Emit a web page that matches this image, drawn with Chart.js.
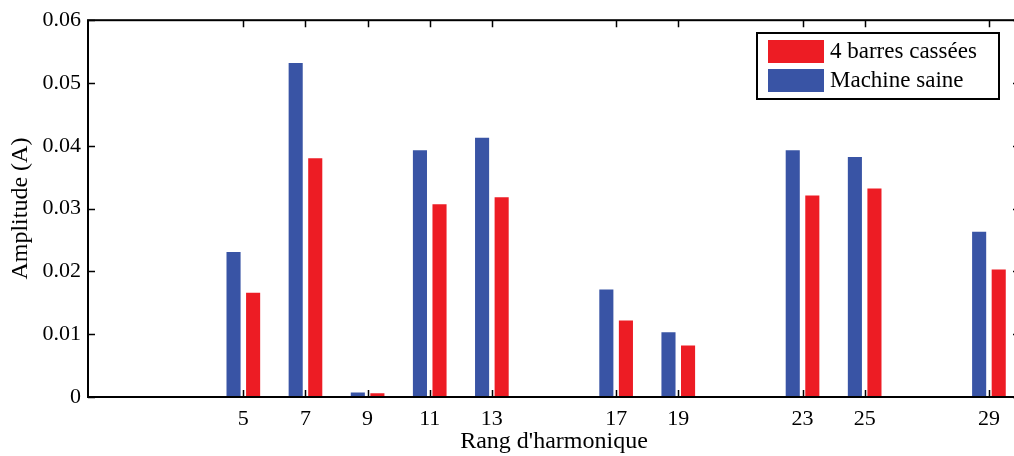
<!DOCTYPE html>
<html>
<head>
<meta charset="utf-8">
<script src="https://cdn.jsdelivr.net/npm/chart.js@4/dist/chart.umd.min.js"></script>
<style>
  html, body { margin: 0; padding: 0; background: #fff; overflow: hidden; }
  #wrap { width: 1030px; height: 456px; }
</style>
</head>
<body>
<div id="wrap"><canvas id="harmChart" width="1030" height="456"></canvas></div>
<script>
// rangs d'harmonique
var rangs = [5, 7, 9, 11, 13, 17, 19, 23, 25, 29];
// amplitudes (A)
var machineSaine = [0.0231, 0.0532, 0.0007, 0.0393, 0.0413, 0.0171, 0.0103, 0.0393, 0.0382, 0.0263];
var barresCassees = [0.0166, 0.0380, 0.0006, 0.0307, 0.0318, 0.0122, 0.0082, 0.0321, 0.0332, 0.0203];
var yTicks = [0, 0.01, 0.02, 0.03, 0.04, 0.05, 0.06];

var bleu = 'rgb(57, 84, 165)';
var rouge = 'rgb(237, 28, 36)';
var police = '"Liberation Serif", "DejaVu Serif", serif';

// cadre + graduations vers l'interieur (style matlab)
var cadrePlugin = {
    id: 'cadre',
    afterDraw: function(chart) {
        var ctx = chart.ctx;
        var a = chart.chartArea;
        var xs = chart.scales.x, ys = chart.scales.y;
        var len = 7;
        ctx.save();
        ctx.strokeStyle = '#000';
        ctx.lineWidth = 1.5;
        ctx.beginPath();
        rangs.forEach(function(r) {
            var px = Math.round(xs.getPixelForValue(r)) + 0.5;
            ctx.moveTo(px, a.bottom); ctx.lineTo(px, a.bottom - len);
            ctx.moveTo(px, a.top); ctx.lineTo(px, a.top + len);
        });
        yTicks.forEach(function(v) {
            var py = Math.round(ys.getPixelForValue(v)) + 0.5;
            ctx.moveTo(a.left, py); ctx.lineTo(a.left + len, py);
            ctx.moveTo(a.right, py); ctx.lineTo(a.right - len, py);
        });
        ctx.stroke();
        ctx.lineWidth = 2;
        ctx.strokeRect(a.left, a.top, a.right - a.left, a.bottom - a.top);
        ctx.restore();
    }
};

// legende dans la zone du graphe
var legendePlugin = {
    id: 'legende',
    afterDraw: function(chart) {
        var ctx = chart.ctx;
        var box = { x: 757, y: 33, w: 242, h: 66 };
        ctx.save();
        ctx.fillStyle = '#fff';
        ctx.fillRect(box.x, box.y, box.w, box.h);
        ctx.strokeStyle = '#000';
        ctx.lineWidth = 2;
        ctx.strokeRect(box.x, box.y, box.w, box.h);
        var ds = chart.data.datasets.slice().reverse();
        ctx.font = '23px ' + police;
        ctx.textBaseline = 'middle';
        ds.forEach(function(d, i) {
            var y = box.y + 7 + i * 29;
            ctx.fillStyle = d.backgroundColor;
            ctx.fillRect(box.x + 11, y, 56, 23);
            ctx.fillStyle = '#000';
            ctx.fillText(d.label, box.x + 73, y + 12);
        });
        ctx.restore();
    }
};

var ctx = document.getElementById('harmChart').getContext('2d');
var harmChart = new Chart(ctx, {
    type: 'bar',
    data: {
        datasets: [
            {
                label: 'Machine saine',
                data: rangs.map(function(r, i) { return { x: r, y: machineSaine[i] }; }),
                backgroundColor: bleu,
                categoryPercentage: 0.63,
                barPercentage: 0.72
            },
            {
                label: '4 barres cassées',
                data: rangs.map(function(r, i) { return { x: r, y: barresCassees[i] }; }),
                backgroundColor: rouge,
                categoryPercentage: 0.63,
                barPercentage: 0.72
            }
        ]
    },
    options: {
        responsive: false,
        animation: false,
        layout: {
            padding: { left: 0, right: 10, top: 18, bottom: 0 }
        },
        plugins: {
            legend: { display: false },
            tooltip: { enabled: false }
        },
        scales: {
            x: {
                type: 'linear',
                min: 0,
                max: 30,
                offset: false,
                grid: { display: false, drawTicks: false },
                border: { display: false },
                afterBuildTicks: function(scale) {
                    scale.ticks = rangs.map(function(r) { return { value: r }; });
                },
                afterFit: function(scale) { scale.height = 59; },
                ticks: {
                    autoSkip: false,
                    maxRotation: 0,
                    padding: 9,
                    color: '#000',
                    font: { family: police, size: 22 }
                },
                title: {
                    display: true,
                    text: "Rang d'harmonique",
                    color: '#000',
                    font: { family: police, size: 24 },
                    padding: { top: 0, bottom: 0 }
                }
            },
            y: {
                min: 0,
                max: 0.06,
                grid: { display: false, drawTicks: false },
                border: { display: false },
                afterBuildTicks: function(scale) {
                    scale.ticks = yTicks.map(function(v) { return { value: v }; });
                },
                afterFit: function(scale) { scale.width = 88; },
                ticks: {
                    padding: 7,
                    color: '#000',
                    font: { family: police, size: 22 },
                    callback: function(v) { return v === 0 ? '0' : v.toFixed(2); }
                },
                title: {
                    display: true,
                    text: 'Amplitude (A)',
                    color: '#000',
                    font: { family: police, size: 24 },
                    padding: { top: 6, bottom: 0 }
                }
            }
        }
    },
    plugins: [cadrePlugin, legendePlugin]
});
</script>
</body>
</html>
